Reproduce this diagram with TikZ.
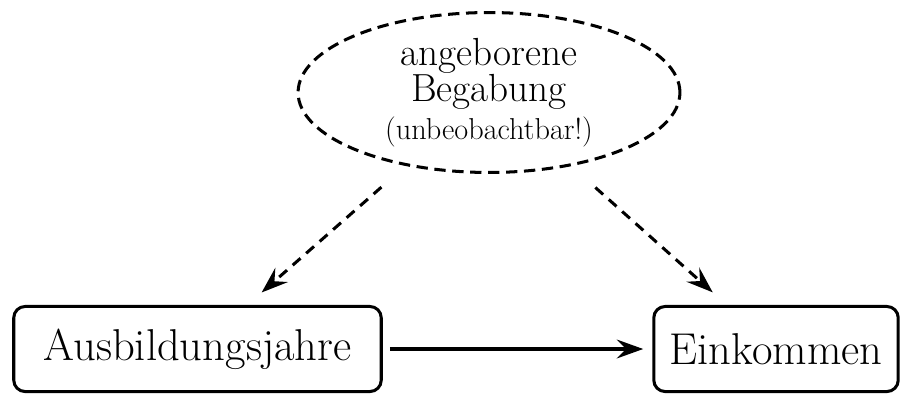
\documentclass[tikz,border=0pt]{standalone}
\usepackage{tikz}
\usetikzlibrary{calc, arrows.meta, shapes.geometric, positioning}

\begin{document}
\begin{tikzpicture}[x=0.529pt, y=-0.529pt,
        box/.style={draw, ultra thick, rounded corners=6pt, inner sep=0pt, font=\fontsize{23.6}{28}\selectfont},
        latent/.style={draw, ellipse, ultra thick, dash pattern=on 6pt off 3.5pt, inner sep=0pt, align=center, font=\huge},
        pfeil/.style={-{Stealth[length=14pt, width=10pt, inset=5pt]}, ultra thick}]
        \useasboundingbox (0,0) rectangle (901,394);
        % Knoten
        \node[box, minimum width=194.4pt, minimum height=45pt] (ausbildung) at (197.5,349) {Ausbildungsjahre};
        \node[box, minimum width=129.3pt, minimum height=45pt] (einkommen) at (776,349) {Einkommen};
        \node[latent, minimum width=202pt, minimum height=84.6pt] (begabung) at (489,92.5)
            {angeborene\\[-6pt]Begabung\\[-5pt]{\fontsize{16}{18}\selectfont (unbeobachtbar!)}};
        % Pfeile
        \draw[pfeil, dash pattern=on 5.5pt off 4pt, shorten <=17pt, shorten >=10pt] (begabung) -- (ausbildung);
        \draw[pfeil, dash pattern=on 5.5pt off 4pt, shorten <=17pt, shorten >=10pt] (begabung) -- (einkommen);
        \draw[pfeil, shorten <=3.7pt, shorten >=4.8pt] (ausbildung) -- (einkommen);
\end{tikzpicture}
\end{document}
